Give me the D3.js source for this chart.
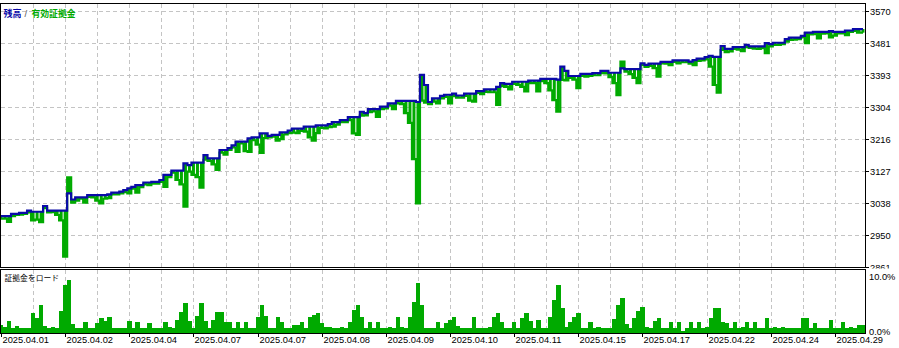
<!DOCTYPE html>
<html><head><meta charset="utf-8">
<script src="https://cdn.jsdelivr.net/npm/d3@7"></script>
<style>
html,body{margin:0;padding:0;background:#fff;}
svg{display:block;}
</style></head><body>
<svg id="chart" width="899" height="348"></svg>
<script>
// ---------- data ----------
const balance = [
3002,3002,3002,3008,3008,3011,3011,3017,3014,3014,
3014,3030,3017,3017,3017,3017,3017,3065,3048,3054,
3054,3054,3060,3060,3060,3060,3060,3062,3067,3067,
3070,3074,3079,3083,3088,3088,3095,3095,3097,3097,
3102,3116,3116,3128,3128,3128,3148,3143,3150,3150,
3150,3171,3162,3162,3162,3185,3185,3190,3198,3208,
3208,3208,3217,3220,3220,3231,3231,3224,3227,3227,
3234,3234,3239,3244,3244,3244,3250,3250,3250,3253,
3253,3253,3257,3262,3262,3268,3268,3276,3276,3276,
3291,3287,3298,3298,3298,3305,3305,3314,3314,3321,
3321,3321,3321,3321,3318,3393,3365,3318,3328,3328,
3335,3338,3338,3341,3336,3336,3341,3341,3341,3348,
3348,3353,3353,3353,3360,3370,3368,3368,3374,3374,
3374,3374,3377,3377,3377,3382,3382,3382,3382,3380,
3416,3404,3390,3390,3390,3396,3396,3396,3398,3398,
3404,3404,3399,3399,3399,3411,3409,3409,3409,3409,
3425,3421,3424,3424,3424,3429,3429,3429,3433,3433,
3433,3433,3430,3434,3438,3438,3442,3446,3443,3443,
3473,3465,3465,3470,3470,3470,3476,3472,3472,3472,
3472,3481,3478,3482,3482,3482,3492,3496,3496,3496,
3501,3510,3510,3512,3512,3512,3512,3514,3512,3512,
3512,3516,3516,3520,3520,3520];

const equity = [
2995,2995,2986,3002,3005,3006,3008,3012,2990,2992,
2985,3024,3012,3013,3005,2990,2890,3109,3039,3045,
3050,3039,3055,3054,3045,3037,3050,3052,3062,3062,
3065,3068,3065,3078,3067,3082,3090,3088,3092,3092,
3097,3083,3110,3122,3102,3090,3028,3125,3116,3110,
3081,3158,3155,3145,3130,3178,3172,3185,3192,3180,
3203,3182,3180,3212,3200,3177,3218,3220,3222,3211,
3215,3228,3232,3233,3232,3238,3236,3220,3211,3232,
3246,3245,3248,3250,3255,3262,3262,3268,3231,3227,
3280,3281,3290,3292,3277,3298,3300,3308,3298,3314,
3312,3287,3260,3160,3037,3322,3316,3312,3319,3314,
3328,3332,3314,3334,3330,3330,3335,3322,3319,3343,
3340,3346,3345,3345,3310,3362,3360,3353,3368,3365,
3360,3347,3370,3370,3347,3376,3370,3350,3323,3291,
3379,3378,3385,3380,3356,3390,3388,3390,3392,3392,
3398,3397,3387,3370,3337,3430,3402,3395,3385,3370,
3420,3415,3418,3412,3388,3425,3424,3420,3429,3425,
3428,3428,3424,3420,3432,3433,3436,3416,3365,3344,
3462,3456,3458,3465,3463,3459,3470,3468,3466,3465,
3467,3453,3472,3476,3476,3478,3485,3490,3491,3492,
3497,3481,3505,3506,3494,3507,3508,3497,3502,3508,
3508,3503,3512,3515,3510,3510];

const marginLoad = [
1.3,1.0,1.9,0.75,1.2,0.75,0.75,0.75,3.2,2.4,
4.5,1.2,0.75,1.0,0.75,3.5,7.7,8.5,1.5,0.75,
0.75,1.8,0.75,0.75,1.6,2.4,1.9,2.6,0.75,0.75,
0.75,0.75,1.9,0.75,1.8,0.75,0.75,1.6,0.75,0.75,
0.75,1.8,1.0,0.75,2.1,3.4,4.9,2.0,0.75,2.8,
4.8,2.0,0.75,2.1,3.4,3.4,1.8,1.8,0.75,1.8,
0.75,1.8,0.75,0.75,2.6,4.5,2.8,0.75,0.75,2.6,
1.8,0.75,0.75,1.3,1.3,1.8,0.75,2.6,2.9,3.3,
1.6,1.0,1.0,0.75,0.75,1.0,0.75,1.8,3.7,4.5,
2.6,0.75,1.8,0.75,1.8,0.75,0.75,1.0,0.75,2.6,
1.0,0.75,2.6,5.0,8.0,4.5,0.75,0.75,0.75,1.8,
0.75,1.6,2.1,2.6,1.2,0.75,0.75,0.75,2.6,0.75,
0.75,0.75,1.0,2.6,3.3,1.8,0.75,0.75,1.8,0.75,
2.4,3.2,2.0,0.75,2.1,0.75,0.75,2.6,5.3,7.7,
4.0,1.0,1.8,2.6,3.2,0.75,0.75,1.8,0.75,1.0,
0.75,0.75,0.75,2.3,4.5,5.6,1.5,0.75,2.5,3.5,
4.2,1.0,0.75,1.9,2.4,0.75,0.75,1.8,0.75,1.8,
0.3,0.75,1.8,0.75,1.8,0.75,1.0,2.4,4.0,4.0,
1.8,1.6,0.75,1.8,0.75,1.0,1.8,0.75,1.8,0.75,
0.75,2.4,0.75,1.0,0.75,1.0,0.75,0.75,0.75,0.75,
2.4,2.4,0.75,1.6,0.75,0.75,0.75,2.1,0.75,0.75,
1.8,0.75,1.0,0.75,1.3,1.3];

const dateLabels = ["2025.04.01","2025.04.02","2025.04.04","2025.04.07","2025.04.07",
  "2025.04.08","2025.04.09","2025.04.10","2025.04.11","2025.04.15","2025.04.17",
  "2025.04.22","2025.04.24","2025.04.29"];
const priceTicks = [2861,2950,3038,3127,3216,3304,3393,3481,3570];
const loadTicks = [0,10];
const loadTickLabels = ["0.0%","10.0%"];
const legendBalance = "残高";
const legendEquity = "有効証拠金";
const lowerTitle = "証拠金をロード";

// ---------- layout ----------
const N = balance.length;
const svg = d3.select("#chart");
const FONT = "'Liberation Sans', Arial, sans-serif";
const CJK = "'Noto Sans CJK JP', sans-serif";
const BLUE = "#0a0aa8", GREEN = "#00aa00", GRID = "#c4c4c4";

const main = {left:0.5, right:865.5, top:3.5, bottom:267.5};
const low = {left:0.5, right:865.5, top:269.5, bottom:333.5};

const x = d3.scaleLinear().domain([0, N-1]).range([1, 863]);
const y = d3.scaleLinear().domain([2861, 3570]).range([267, 11]);
const yL = d3.scaleLinear().domain([0, 10]).range([333, 271]);
const step = x(1) - x(0);

svg.append("defs").html(
  `<clipPath id="cMain"><rect x="1" y="4" width="864" height="263"/></clipPath>
   <clipPath id="cLow"><rect x="1" y="270" width="864" height="63"/></clipPath>
   <clipPath id="cAxis"><rect x="866" y="0" width="33" height="268.5"/></clipPath>`);

// grids
const gridIdx = d3.range(8, N, 8);
const gMainGrid = svg.append("g").attr("stroke", GRID).attr("stroke-dasharray", "4,3").attr("shape-rendering","crispEdges");
gMainGrid.selectAll("line.v").data(gridIdx).join("line").attr("class","v")
  .attr("x1", d => Math.round(x(d)) + 0.5).attr("x2", d => Math.round(x(d)) + 0.5)
  .attr("y1", main.top).attr("y2", main.bottom);
gMainGrid.selectAll("line.h").data(priceTicks.slice(1)).join("line").attr("class","h")
  .attr("x1", main.left).attr("x2", main.right)
  .attr("y1", d => Math.round(y(d)) + 0.5).attr("y2", d => Math.round(y(d)) + 0.5);
const gLowGrid = svg.append("g").attr("stroke", GRID).attr("stroke-dasharray", "4,3").attr("shape-rendering","crispEdges");
gLowGrid.selectAll("line").data(gridIdx).join("line")
  .attr("x1", d => Math.round(x(d)) + 0.5).attr("x2", d => Math.round(x(d)) + 0.5)
  .attr("y1", low.top).attr("y2", low.bottom);

// equity (jagged bars + line) and balance
const gPlot = svg.append("g").attr("clip-path", "url(#cMain)");
gPlot.selectAll("rect.eq").data(equity).join("rect").attr("class","eq")
  .attr("x", (d,i) => x(i) - 1.5).attr("width", 3)
  .attr("y", (d,i) => Math.min(y(d), y(balance[i])))
  .attr("height", (d,i) => Math.abs(y(d) - y(balance[i])))
  .attr("fill", GREEN);
gPlot.append("path").datum(equity)
  .attr("fill", "none").attr("stroke", GREEN).attr("stroke-width", 2.2)
  .attr("d", d3.line().x((d,i) => x(i)).y(d => y(d)).curve(d3.curveStep));
gPlot.append("path").datum(balance)
  .attr("fill", "none").attr("stroke", BLUE).attr("stroke-width", 2.2)
  .attr("d", d3.line().x((d,i) => x(i)).y(d => y(d)).curve(d3.curveStep));

// margin load bars
const gLow = svg.append("g").attr("clip-path", "url(#cLow)");
gLow.selectAll("rect").data(marginLoad).join("rect")
  .attr("x", (d,i) => x(i) - step/2).attr("width", step + 0.3)
  .attr("y", d => yL(d)).attr("height", d => yL(0) - yL(d))
  .attr("fill", GREEN).attr("shape-rendering","crispEdges");

// frames
[main, low].forEach(p => {
  svg.append("rect").attr("x", p.left).attr("y", p.top)
    .attr("width", p.right - p.left).attr("height", p.bottom - p.top)
    .attr("fill", "none").attr("stroke", "#000").attr("shape-rendering","crispEdges");
});

// right price axis
const gAx = svg.append("g").attr("clip-path", "url(#cAxis)");
priceTicks.forEach(v => {
  const py = Math.round(y(v)) + 0.5;
  gAx.append("line").attr("x1", 866).attr("x2", 869).attr("y1", py).attr("y2", py).attr("stroke", "#000");
  gAx.append("text").attr("x", 870).attr("y", y(v) + 3.8)
    .attr("font-family", FONT).attr("font-size", "9.3px").attr("fill", "#000").text(d3.format("d")(v));
});
// lower axis labels
loadTicks.forEach((v, k) => {
  svg.append("text").attr("x", 869).attr("y", k === 0 ? yL(v) + 2 : yL(v) + 9)
    .attr("font-family", FONT).attr("font-size", "9.3px").attr("fill", "#000").text(loadTickLabels[k]);
});

// bottom date axis
dateLabels.forEach((lab, k) => {
  const px = Math.round(x(16 * k)) + 0.5;
  svg.append("line").attr("x1", px).attr("x2", px).attr("y1", 334).attr("y2", 337).attr("stroke", "#000");
  svg.append("text").attr("x", px + 1).attr("y", 343.3)
    .attr("font-family", FONT).attr("font-size", "9.3px").attr("fill", "#000").text(lab);
});

// legend
svg.append("text").attr("x", 3.5).attr("y", 17).attr("font-family", CJK).attr("font-size", "9px")
  .attr("font-weight", "bold").attr("fill", BLUE).text(legendBalance);
svg.append("text").attr("x", 24.5).attr("y", 17).attr("font-family", FONT).attr("font-size", "9.5px")
  .attr("fill", "#555").text("/");
svg.append("text").attr("x", 31.5).attr("y", 17).attr("font-family", CJK).attr("font-size", "8.8px")
  .attr("font-weight", "bold").attr("fill", GREEN).text(legendEquity);
svg.append("text").attr("x", 4.5).attr("y", 281).attr("font-family", CJK).attr("font-size", "7.8px")
  .attr("fill", "#000").text(lowerTitle);
</script>
</body></html>
